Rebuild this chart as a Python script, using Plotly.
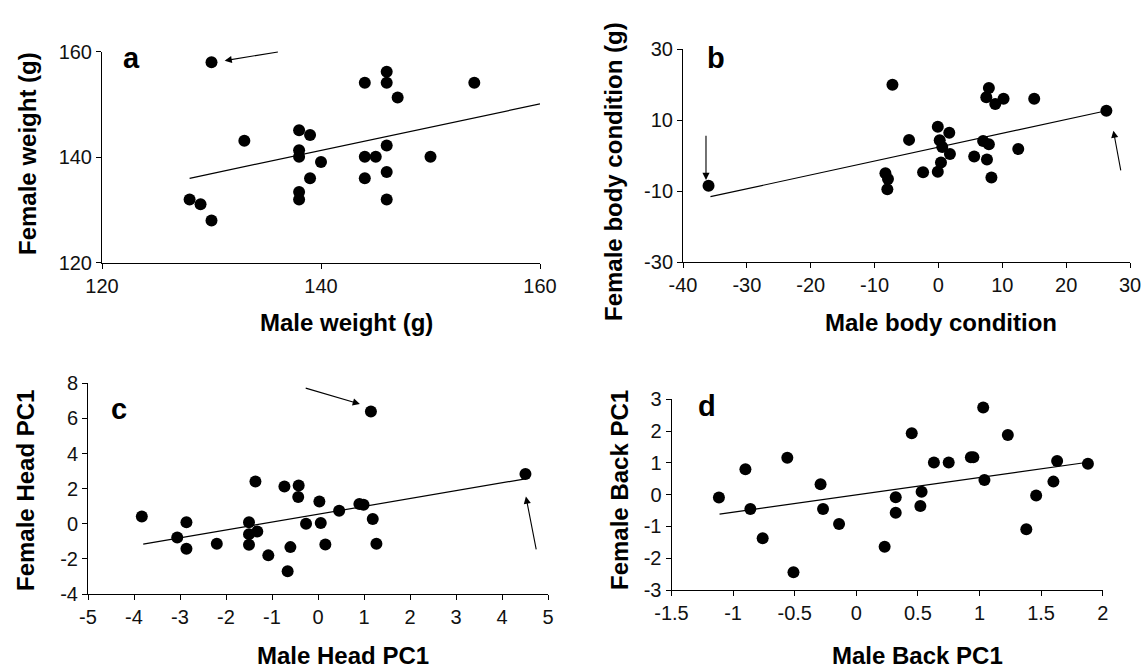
import plotly.graph_objects as go

W, H = 1146, 670

# ---------------- data ----------------
# Panel a: weight
a_male = [130, 128, 129, 130, 133, 138, 139, 138, 138, 140, 139, 138, 138,
          144, 146, 146, 147, 154, 144, 145, 146, 150, 144, 146, 146]
a_female = [158, 132, 131.1, 128, 143.1, 145.1, 144.2, 141.3, 140.1, 139.1, 136, 133.4, 132,
            154.1, 156.2, 154.1, 151.3, 154.1, 140.1, 140.1, 142.2, 140.1, 136, 137.2, 132]
a_trend_x = [128, 160]
a_trend_y = [136.0, 150.1]

# Panel b: body condition
b_male = [-36, -7.2, -4.6, -8.3, -7.9, -8.0, -2.4, -0.1, 1.7, 0.2, 0.6, 1.8, 0.4, -0.1,
          5.6, 7.0, 7.9, 7.6, 8.3, 7.9, 7.5, 8.9, 10.2, 15.0, 12.5, 26.3]
b_female = [-8.5, 19.9, 4.4, -5.0, -6.6, -9.5, -4.7, 8.1, 6.4, 4.3, 2.4, 0.4, -2.0, -4.6,
            -0.3, 4.1, 3.2, -1.1, -6.2, 19.0, 16.4, 14.5, 16.0, 16.0, 1.8, 12.6]
b_trend_x = [-35.7, 26.3]
b_trend_y = [-11.6, 12.6]

# Panel c: head PC1
c_male = [-3.83, -3.06, -2.86, -2.86, -2.20, -1.50, -1.50, -1.32, -1.50, -1.36, -1.08, -0.73,
          -0.42, -0.43, -0.60, -0.66, -0.26, 0.03, 0.06, 0.16, 0.46, 0.90, 0.99, 1.19, 1.27,
          1.15, 4.51]
c_female = [0.42, -0.78, 0.09, -1.42, -1.14, 0.09, -0.59, -0.44, -1.19, 2.41, -1.80, 2.12,
            2.18, 1.52, -1.33, -2.71, 0.0, 1.27, 0.04, -1.18, 0.74, 1.12, 1.08, 0.27, -1.14,
            6.39, 2.84]
c_trend_x = [-3.80, 4.51]
c_trend_y = [-1.16, 2.56]

# Panel d: back PC1
d_male = [-1.115, -0.90, -0.86, -0.76, -0.56, -0.51, -0.29, -0.27, -0.14, 0.23, 0.32, 0.32,
          0.45, 0.53, 0.52, 0.63, 0.75, 0.93, 0.95, 1.03, 1.04, 1.23, 1.38, 1.46, 1.60, 1.63, 1.88]
d_female = [-0.09, 0.80, -0.45, -1.37, 1.16, -2.44, 0.33, -0.45, -0.92, -1.64, -0.08, -0.57,
            1.93, 0.09, -0.36, 1.01, 1.01, 1.18, 1.18, 2.74, 0.46, 1.88, -1.09, -0.03, 0.41, 1.06, 0.97]
d_trend_x = [-1.11, 1.88]
d_trend_y = [-0.61, 1.02]

# tick values and labels
a_xticks = [120, 140, 160]
a_xlabels = ["120", "140", "160"]
a_yticks = [120, 140, 160]
a_ylabels = ["120", "140", "160"]
b_xticks = [-40, -30, -20, -10, 0, 10, 20, 30]
b_xlabels = ["-40", "-30", "-20", "-10", "0", "10", "20", "30"]
b_yticks = [-30, -10, 10, 30]
b_ylabels = ["-30", "-10", "10", "30"]
c_xticks = [-5, -4, -3, -2, -1, 0, 1, 2, 3, 4, 5]
c_xlabels = ["-5", "-4", "-3", "-2", "-1", "0", "1", "2", "3", "4", "5"]
c_yticks = [-4, -2, 0, 2, 4, 6, 8]
c_ylabels = ["-4", "-2", "0", "2", "4", "6", "8"]
d_xticks = [-1.5, -1, -0.5, 0, 0.5, 1, 1.5, 2]
d_xlabels = ["-1.5", "-1", "-0.5", "0", "0.5", "1", "1.5", "2"]
d_yticks = [-3, -2, -1, 0, 1, 2, 3]
d_ylabels = ["-3", "-2", "-1", "0", "1", "2", "3"]

# ---------------- layout helpers ----------------
FONT = "Liberation Sans, Arial, sans-serif"


def px_x(p):
    return p / W


def px_y(p):
    return 1 - p / H


panels = [
    ("", a_male, a_female, (a_trend_x, a_trend_y), [120, 160], [120, 160],
     (a_xticks, a_xlabels), (a_yticks, a_ylabels), (102, 540), (262.7, 51.7)),
    ("2", b_male, b_female, (b_trend_x, b_trend_y), [-40, 30], [-30, 30],
     (b_xticks, b_xlabels), (b_yticks, b_ylabels), (683, 1130), (262, 49)),
    ("3", c_male, c_female, (c_trend_x, c_trend_y), [-5, 5], [-4, 8],
     (c_xticks, c_xlabels), (c_yticks, c_ylabels), (88, 548), (594, 383.3)),
    ("4", d_male, d_female, (d_trend_x, d_trend_y), [-1.5, 2], [-3, 3],
     (d_xticks, d_xlabels), (d_yticks, d_ylabels), (671.5, 1102.7), (590, 399.3)),
]

fig = go.Figure()
layout = dict(width=W, height=H, margin=dict(l=0, r=0, t=0, b=0, autoexpand=False),
              plot_bgcolor="white", paper_bgcolor="white", showlegend=False,
              font=dict(family=FONT, color="black"))

for key, xs, ys, (tx, ty), xr, yr, (xt, xl), (yt, yl), (x0, x1), (y0, y1) in panels:
    xa = "x" + key
    ya = "y" + key
    fig.add_trace(go.Scatter(x=tx, y=ty, mode="lines", xaxis=xa, yaxis=ya,
                             line=dict(color="black", width=1.2), hoverinfo="skip"))
    fig.add_trace(go.Scatter(x=xs, y=ys, mode="markers", xaxis=xa, yaxis=ya, cliponaxis=False,
                             marker=dict(color="black", size=12, line=dict(width=0))))
    common = dict(showline=True, linecolor="black", linewidth=1, ticks="outside", ticklen=5,
                  tickcolor="black", tickwidth=1, showgrid=False, zeroline=False,
                  automargin=False, tickfont=dict(family=FONT, size=20, color="#111"))
    layout["xaxis" + key] = dict(domain=[px_x(x0), px_x(x1)], range=xr, tickvals=xt,
                                 ticktext=xl, anchor=ya, **common)
    layout["yaxis" + key] = dict(domain=[px_y(y0), px_y(y1)], range=yr, tickvals=yt,
                                 ticktext=yl, anchor=xa, **common)

fig.update_layout(**layout)

# ---------------- text annotations ----------------
ann = []


def text(t, x, y, size, angle=0):
    ann.append(dict(text=t, x=px_x(x), y=px_y(y), xref="paper", yref="paper",
                    showarrow=False, textangle=angle, xanchor="center", yanchor="middle",
                    font=dict(family=FONT, size=size, color="black")))


# axis titles
text("<b>Male weight (g)</b>", 346, 322, 24)
text("<b>Female weight (g)</b>", 27, 154, 24, -90)
text("<b>Male body condition</b>", 941, 322, 24)
text("<b>Female body condition (g)</b>", 613, 172, 24, -90)
text("<b>Male Head PC1</b>", 343, 655, 24)
text("<b>Female Head PC1</b>", 25, 491, 24, -90)
text("<b>Male Back PC1</b>", 917, 655, 24)
text("<b>Female Back PC1</b>", 619, 490, 24, -90)

# panel letters
text("<b>a</b>", 131, 58, 29)
text("<b>b</b>", 716, 58, 29)
text("<b>c</b>", 119, 409, 29)
text("<b>d</b>", 707, 406, 29)


# arrows (head at x,y ; tail at ax,ay), in data coordinates
def arrow(key, hx, hy, tx_, ty_):
    ann.append(dict(text="", x=hx, y=hy, ax=tx_, ay=ty_, xref="x" + key, yref="y" + key,
                    axref="x" + key, ayref="y" + key, showarrow=True, arrowhead=2,
                    arrowsize=1.3, arrowwidth=1.1, arrowcolor="black", standoff=0))


arrow("", 131.2, 158.3, 136.2, 160.0)
arrow("2", -36.4, -6.9, -36.4, 6.0)
arrow("2", 27.4, 7.0, 28.6, -4.6)
arrow("3", 0.91, 6.82, -0.30, 7.75)
arrow("3", 4.52, 1.55, 4.75, -1.54)

fig.update_layout(annotations=ann)

# remove the browser's default page margin so the figure fills the window exactly
fig.write_html("out.html", config={"displayModeBar": False},
               post_script="document.body.style.margin='0';document.body.style.overflow='hidden';")
